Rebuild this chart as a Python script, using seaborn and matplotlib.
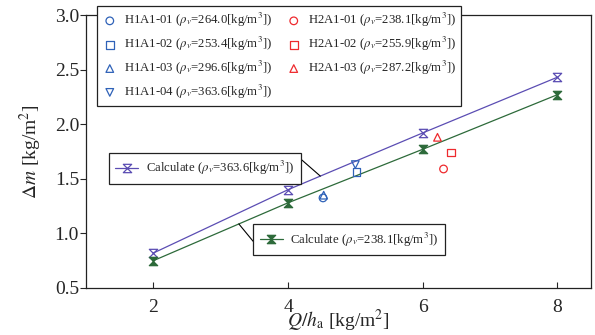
import numpy as np
import matplotlib
matplotlib.use("Agg")
import matplotlib.pyplot as plt
from matplotlib.path import Path
import seaborn as sns

# ---- data ----
calc_x = [2, 4, 6, 8]
calc_hi = [0.82, 1.40, 1.92, 2.43]   # rho_v = 363.6
calc_lo = [0.75, 1.28, 1.77, 2.27]   # rho_v = 238.1
calc_labels = [r"Calculate ($\rho_v$=363.6[kg/m$^3$])",
               r"Calculate ($\rho_v$=238.1[kg/m$^3$])"]

exp_names = ["H1A1-01", "H1A1-02", "H1A1-03", "H1A1-04",
             "H2A1-01", "H2A1-02", "H2A1-03"]
exp_rho = ["264.0", "253.4", "296.6", "363.6", "238.1", "255.9", "287.2"]
exp_x = [4.52, 5.02, 4.53, 5.00, 6.31, 6.42, 6.22]
exp_y = [1.325, 1.56, 1.35, 1.63, 1.59, 1.74, 1.88]
exp_markers = ["o", "s", "^", "v", "o", "s", "^"]

x_ticks = [2, 4, 6, 8]
y_ticks = [0.5, 1.0, 1.5, 2.0, 2.5, 3.0]

BLUE = "#2f62b8"
RED = "#ee2a2e"
PURPLE = "#5b4db3"
GREEN = "#2d6a3a"

sns.set_theme(style="ticks")
plt.rcParams["font.family"] = ["Liberation Serif", "DejaVu Serif"]
plt.rcParams["mathtext.fontset"] = "stix"

hourglass = Path([(-1, 1), (1, 1), (-1, -1), (1, -1), (-1, 1)],
                 [Path.MOVETO, Path.LINETO, Path.LINETO, Path.LINETO, Path.CLOSEPOLY])

fig = plt.figure(figsize=(5.95, 3.35), dpi=100)
ax = fig.add_axes([86 / 595, 1 - 288 / 335, 505 / 595, 273 / 335])

# calculated lines
sns.lineplot(x=calc_x, y=calc_hi, ax=ax, color=PURPLE, lw=0.9,
             marker=hourglass, markersize=6, markerfacecolor="none",
             markeredgecolor=PURPLE, markeredgewidth=0.9, legend=False)
sns.lineplot(x=calc_x, y=calc_lo, ax=ax, color=GREEN, lw=0.9,
             marker=hourglass, markersize=6, markerfacecolor=GREEN,
             markeredgecolor=GREEN, markeredgewidth=0.9, legend=False)
line_hi, line_lo = ax.get_lines()[0], ax.get_lines()[1]

# experimental points
exp_handles = []
for n, r, x, y, m in zip(exp_names, exp_rho, exp_x, exp_y, exp_markers):
    c = BLUE if n.startswith("H1") else RED
    h = ax.scatter([x], [y], marker=m, s=30, facecolors="none",
                   edgecolors=c, linewidths=0.9, zorder=3,
                   label=n + r" ($\rho_v$=" + r + r"[kg/m$^3$])")
    exp_handles.append(h)

ax.set_xlim(1, 8.5)
ax.set_ylim(0.5, 3.0)
ax.set_xticks(x_ticks)
ax.set_yticks(y_ticks)
ax.set_xticklabels([str(v) for v in x_ticks])
ax.set_yticklabels([f"{v:.1f}" for v in y_ticks])
ax.tick_params(axis="x", direction="in", length=4, width=0.8, labelsize=14, pad=8,
               top=False)
ax.tick_params(axis="y", direction="out", length=4, width=0.8, labelsize=14, pad=1,
               right=False)
for s in ax.spines.values():
    s.set_visible(True)
    s.set_linewidth(0.9)
    s.set_color("#222222")

ax.set_xlabel(r"$Q/h_{\rm a}$ [kg/m$^2$]", fontsize=14, labelpad=-6)
ax.set_ylabel(r"$\Delta m$ [kg/m$^2$]", fontsize=14, labelpad=8)

FS = 9.2
# main legend
leg = ax.legend(handles=exp_handles, ncol=2, loc="upper left",
                bbox_to_anchor=(0.0218, 1.033), borderaxespad=0,
                fontsize=FS, frameon=True, fancybox=False,
                edgecolor="#222222", framealpha=1, handletextpad=0.5,
                columnspacing=1.1, labelspacing=0.45, handlelength=1.2,
                borderpad=0.4)
leg.get_frame().set_linewidth(0.9)
ax.add_artist(leg)

# calculate legends
leg1 = ax.legend(handles=[line_hi], labels=[calc_labels[0]], loc="upper left",
                 bbox_to_anchor=(0.0455, 0.4956), borderaxespad=0,
                 fontsize=FS, fancybox=False, edgecolor="#222222",
                 framealpha=1, handlelength=1.8, handletextpad=0.6,
                 borderpad=0.5)
leg1.get_frame().set_linewidth(0.9)
ax.add_artist(leg1)
leg2 = ax.legend(handles=[line_lo], labels=[calc_labels[1]], loc="upper left",
                 bbox_to_anchor=(0.331, 0.234), borderaxespad=0,
                 fontsize=FS, fancybox=False, edgecolor="#222222",
                 framealpha=1, handlelength=1.8, handletextpad=0.6,
                 borderpad=0.5)
leg2.get_frame().set_linewidth(0.9)

# connectors
xa = 4.48
ax.annotate("", xy=(xa, np.interp(xa, calc_x, calc_hi)), xycoords="data",
            xytext=(0.423, 0.476), textcoords="axes fraction",
            arrowprops=dict(arrowstyle="-", color="black", lw=0.8,
                            shrinkA=0, shrinkB=0))
xb = 3.27
ax.annotate("", xy=(xb, np.interp(xb, calc_x, calc_lo)), xycoords="data",
            xytext=(0.331, 0.171), textcoords="axes fraction",
            arrowprops=dict(arrowstyle="-", color="black", lw=0.8,
                            shrinkA=0, shrinkB=0))

fig.savefig("out.png", dpi=100)
